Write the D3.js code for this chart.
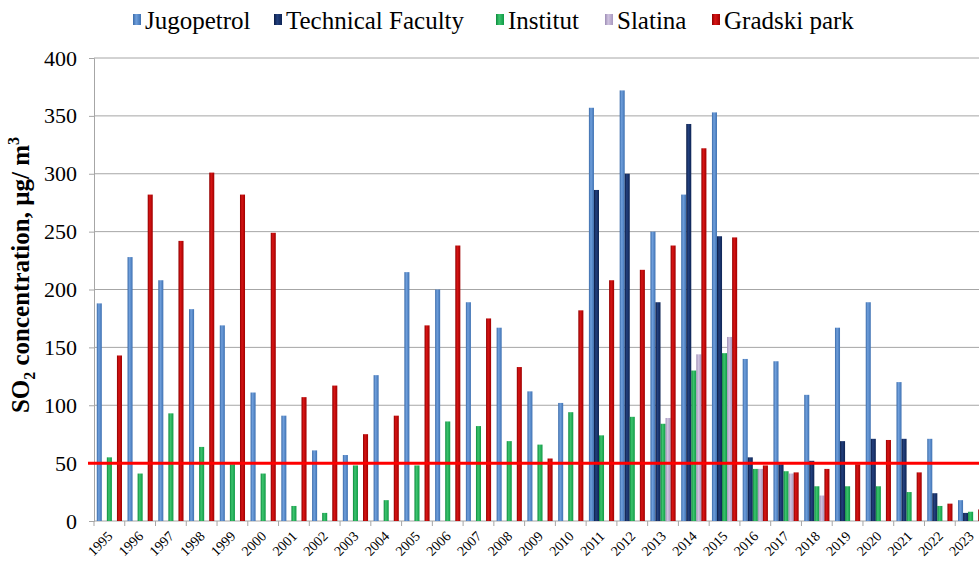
<!DOCTYPE html>
<html>
<head>
<meta charset="utf-8">
<script src="https://cdn.jsdelivr.net/npm/d3@7/dist/d3.min.js"></script>
<style>
  html, body { margin: 0; padding: 0; background: #fff; }
  svg text { font-family: "Liberation Serif", "Times New Roman", Times, serif; }
</style>
</head>
<body>
<div id="chart"></div>
<script>
const years = ['1995', '1996', '1997', '1998', '1999', '2000', '2001', '2002', '2003', '2004',
  '2005', '2006', '2007', '2008', '2009', '2010', '2011', '2012', '2013', '2014',
  '2015', '2016', '2017', '2018', '2019', '2020', '2021', '2022', '2023'];

const jugopetrol = [188, 228, 208, 183, 169, 111, 91, 61, 57, 126, 215, 200, 189, 167, 112, 102,
  357, 372, 250, 282, 353, 140, 138, 109, 167, 189, 120, 71, 18];
const technicalFaculty = [null, null, null, null, null, null, null, null, null, null, null, null, null, null, null, null,
  286, 300, 189, 343, 246, 55, 49, 52, 69, 71, 71, 24, 7];
const institut = [55, 41, 93, 64, 49, 41, 13, 7, 48, 18, 48, 86, 82, 69, 66, 94,
  74, 90, 84, 130, 145, 45, 43, 30, 30, 30, 25, 13, 8];
const slatina = [null, null, null, null, null, null, null, null, null, null, null, null, null, null, null, null,
  null, null, 89, 144, 159, 45, 41, 22, null, null, null, null, null];
const gradskiPark = [143, 282, 242, 301, 282, 249, 107, 117, 75, 91, 169, 238, 175, 133, 54, 182,
  208, 217, 238, 322, 245, 48, 42, 45, 49, 70, 42, 15, 10];

const seriesNames = ['Jugopetrol', 'Technical Faculty', 'Institut', 'Slatina', 'Gradski park'];
const seriesValues = [jugopetrol, technicalFaculty, institut, slatina, gradskiPark];
const yTicks = [0, 50, 100, 150, 200, 250, 300, 350, 400];
const limitValue = 50;

const colors = {
  'Jugopetrol': ['#3a6aa8', '#6f9fdc', '#3e71b2'],
  'Technical Faculty': ['#0b1c44', '#23407e', '#0e2454'],
  'Institut': ['#0c8a3c', '#3cc46e', '#109a45'],
  'Slatina': ['#9c8cb4', '#cfc3df', '#a898c0'],
  'Gradski park': ['#8e0000', '#d81414', '#a00000']
};

const serif = '"Liberation Serif", "Times New Roman", serif';
const width = 979;
const height = 563;
const plotLeft = 94;
const plotRight = 986;
const plotTop = 58;
const plotBottom = 521;

const svg = d3.select('#chart').append('svg')
  .attr('width', width)
  .attr('height', height)
  .attr('font-family', serif)
  .attr('viewBox', `0 0 ${width} ${height}`);

svg.append('rect').attr('width', width).attr('height', height).attr('fill', '#fff');

const defs = svg.append('defs');
seriesNames.forEach((name, i) => {
  const g = defs.append('linearGradient')
    .attr('id', 'grad' + i)
    .attr('x1', '0%').attr('x2', '100%').attr('y1', '0%').attr('y2', '0%');
  g.append('stop').attr('offset', '0%').attr('stop-color', colors[name][0]);
  g.append('stop').attr('offset', '40%').attr('stop-color', colors[name][1]);
  g.append('stop').attr('offset', '100%').attr('stop-color', colors[name][2]);
});

const x0 = d3.scaleBand()
  .domain(years)
  .range([plotLeft, plotRight])
  .paddingInner(0.18)
  .paddingOuter(0.09);

const x1 = d3.scaleBand()
  .domain(seriesNames)
  .range([0, x0.bandwidth()])
  .padding(0);

const y = d3.scaleLinear()
  .domain([0, 400])
  .range([plotBottom, plotTop]);

// gridlines
svg.append('g')
  .selectAll('line')
  .data(yTicks.filter((d) => d > 0))
  .join('line')
  .attr('x1', plotLeft)
  .attr('x2', width)
  .attr('y1', (d) => y(d))
  .attr('y2', (d) => y(d))
  .attr('stroke', '#a6a6a6')
  .attr('stroke-width', 1);

// y axis
const yAxis = svg.append('g')
  .attr('transform', `translate(${plotLeft},0)`)
  .call(d3.axisLeft(y).tickValues(yTicks).tickSize(5).tickPadding(12));
yAxis.attr('font-family', serif);
yAxis.select('.domain').attr('stroke', '#a6a6a6');
yAxis.selectAll('.tick line').attr('stroke', '#a6a6a6');
yAxis.selectAll('text')
  .attr('font-size', 22)
  .style('font-family', serif)
  .attr('fill', '#000');

// x axis
const step = x0.step();
const xAxis = svg.append('g')
  .attr('transform', `translate(0,${plotBottom})`);
xAxis.append('line')
  .attr('x1', plotLeft).attr('x2', width)
  .attr('y1', 0).attr('y2', 0)
  .attr('stroke', '#a6a6a6');
xAxis.selectAll('line.tk')
  .data(years)
  .join('line')
  .attr('class', 'tk')
  .attr('x1', (d) => x0(d) - step * 0.09)
  .attr('x2', (d) => x0(d) - step * 0.09)
  .attr('y1', 0).attr('y2', 5)
  .attr('stroke', '#a6a6a6');
xAxis.selectAll('text')
  .data(years)
  .join('text')
  .attr('transform', (d) => `translate(${x0(d) + x0.bandwidth() / 2 + 4},${16}) rotate(-45)`)
  .attr('text-anchor', 'end')
  .attr('font-size', 14)
  .style('font-family', serif)
  .attr('fill', '#000')
  .text((d) => d);

// bars
const barData = years.map((yr, i) => ({
  year: yr,
  values: seriesNames.map((name, s) => ({ name, s, value: seriesValues[s][i] }))
}));

svg.append('g')
  .selectAll('g')
  .data(barData)
  .join('g')
  .attr('transform', (d) => `translate(${x0(d.year)},0)`)
  .selectAll('rect')
  .data((d) => d.values.filter((v) => v.value != null))
  .join('rect')
  .attr('x', (d) => x1(d.name))
  .attr('width', x1.bandwidth())
  .attr('y', (d) => y(d.value))
  .attr('height', (d) => plotBottom - y(d.value))
  .attr('fill', (d) => `url(#grad${d.s})`);

// limit line
svg.append('line')
  .attr('x1', plotLeft - 6)
  .attr('x2', width)
  .attr('y1', y(limitValue))
  .attr('y2', y(limitValue))
  .attr('stroke', '#ff0000')
  .attr('stroke-width', 3);

// y label
const yLabel = svg.append('text')
  .attr('transform', `translate(29,275) rotate(-90)`)
  .attr('text-anchor', 'middle')
  .attr('font-size', 25)
  .attr('font-weight', 'bold')
  .style('font-family', serif)
  .attr('fill', '#000');
yLabel.append('tspan').text('SO');
yLabel.append('tspan').attr('font-size', 16).attr('dy', 6).text('2');
yLabel.append('tspan').attr('dy', -6).text(' concentration, µg/ m');
yLabel.append('tspan').attr('font-size', 16).attr('dy', -10).text('3');

// legend
const legendX = [133, 274, 496, 605, 712];
const legend = svg.append('g')
  .selectAll('g')
  .data(seriesNames)
  .join('g')
  .attr('transform', (d, i) => `translate(${legendX[i]},22)`);
legend.append('rect')
  .attr('x', 0).attr('y', -8)
  .attr('width', 8).attr('height', 11)
  .attr('fill', (d, i) => `url(#grad${i})`);
legend.append('text')
  .attr('x', 12)
  .attr('y', 7)
  .attr('font-size', 25)
  .style('font-family', serif)
  .attr('fill', '#000')
  .text((d) => d);
</script>
</body>
</html>
